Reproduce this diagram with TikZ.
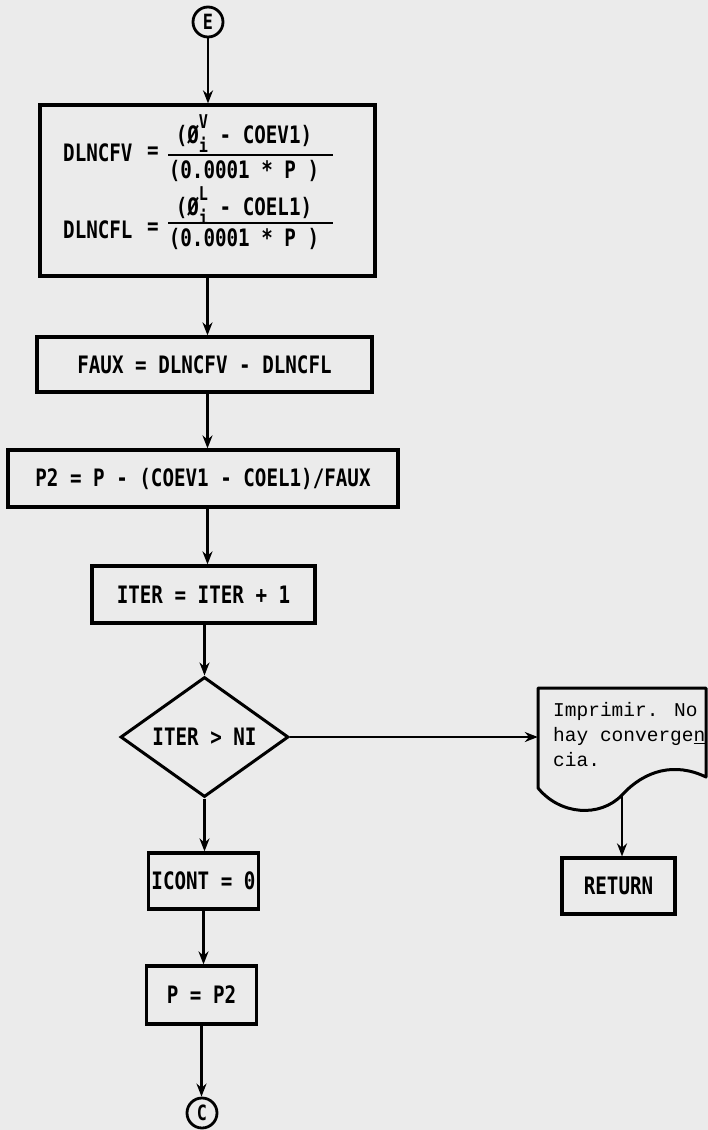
\documentclass[tikz,border=0pt]{standalone}
\usepackage{fontspec}
\setmainfont{DejaVu Sans Mono}[FakeStretch=0.8]
\newfontfamily\docfont{Liberation Mono}
\usetikzlibrary{arrows.meta,shapes.geometric}
\newcommand\phisup[2]{\rlap{\raisebox{-0.38em}{\fontsize{19}{19}\selectfont #1}}\raisebox{0.62em}{\fontsize{19}{19}\selectfont #2}}
\begin{document}
\begin{tikzpicture}[x=1pt,y=-1pt,
  mainfont/.style={font=\fontsize{24}{26}\selectfont\bfseries},
  box/.style={draw, line width=3.2pt, rectangle, inner sep=0pt, mainfont},
  txt/.style={inner sep=0pt, mainfont},
  conn/.style={circle, draw, line width=2.8pt, minimum size=30pt, inner sep=0pt, font=\fontsize{21}{21}\selectfont\bfseries},
  arr/.style={line width=2.6pt, -{Stealth[length=13pt,width=10pt]}},
  bar/.style={line width=2.4pt}]
\fill[black!8] (0,0) rectangle (708,1130);
\useasboundingbox (0,0) rectangle (708,1130);

\node[conn] (E) at (208,22) {E};
\node[box, minimum width=335pt, minimum height=171pt] (b1) at (207.5,190.5) {};
\node[txt, anchor=west] (l1) at (63,153) {DLNCFV};
\node[txt] (eq1) at (153,153) {=};
\node[txt] (n1) at (244,134) {(Ø\phisup{i}{V} - COEV1)};
\node[txt] (d1) at (244,171) {(0.0001 * P )};
\draw[bar] (168,155) -- (333,155);
\node[txt, anchor=west] (l2) at (63,230) {DLNCFL};
\node[txt] (eq2) at (153,229) {=};
\node[txt] (n2) at (244,206) {(Ø\phisup{i}{L} - COEL1)};
\node[txt] (d2) at (244,239) {(0.0001 * P )};
\draw[bar] (168,223) -- (333,223);

\node[box, minimum width=335pt, minimum height=55pt] (faux) at (204.5,364.5) {FAUX = DLNCFV - DLNCFL};
\node[box, minimum width=390pt, minimum height=57pt] (p2) at (203,478.5) {P2 = P - (COEV1 - COEL1)/FAUX};
\node[box, minimum width=223pt, minimum height=57pt] (iter) at (203.5,594.5) {ITER = ITER + 1};
\node[diamond, draw, line width=3pt, aspect=1.4, inner sep=0pt, minimum width=168pt, minimum height=120pt, mainfont] (dia) at (204.5,737) {ITER > NI};
\node[box, minimum width=110pt, minimum height=56pt] (icont) at (203.5,881) {ICONT = 0};
\node[box, minimum width=110pt, minimum height=58pt] (pp2) at (201.5,995) {P = P2};
\node[conn] (C) at (202,1113) {C};

\node[minimum width=168pt, minimum height=108pt, inner sep=0pt] (doc) at (622,742) {};
\draw[line width=3pt, line join=round] (538,688) -- (706,688) -- (706,777)
  .. controls (675,762) and (645,770) .. (622,795)
  .. controls (600,818) and (560,815) .. (538,788) -- cycle;
\node[anchor=west, align=left, inner sep=0pt, font=\docfont\fontsize{19.5}{25}\selectfont] (doct) at (553,735) {Imprimir. No\\hay converge\underline{n}\\cia.};
\node[box, minimum width=113pt, minimum height=56pt] (ret) at (618.5,886) {RETURN};

\draw[arr] (E.south) -- (E.south |- b1.north);
\draw[arr] (b1.south) -- (b1.south |- faux.north);
\draw[arr] (faux.south -| b1.south) -- (p2.north -| b1.south);
\draw[arr] (p2.south -| b1.south) -- (iter.north -| b1.south);
\draw[arr] (iter.south -| dia.north) -- (dia.north);
\draw[arr] (dia.east) -- (dia.east -| doc.west);
\draw[arr] (doc.south) -- (doc.south |- ret.north);
\draw[arr] (dia.south) -- (dia.south |- icont.north);
\draw[arr] (icont.south) -- (icont.south |- pp2.north);
\draw[arr] (pp2.south) -- (pp2.south |- C.north);
\end{tikzpicture}
\end{document}
